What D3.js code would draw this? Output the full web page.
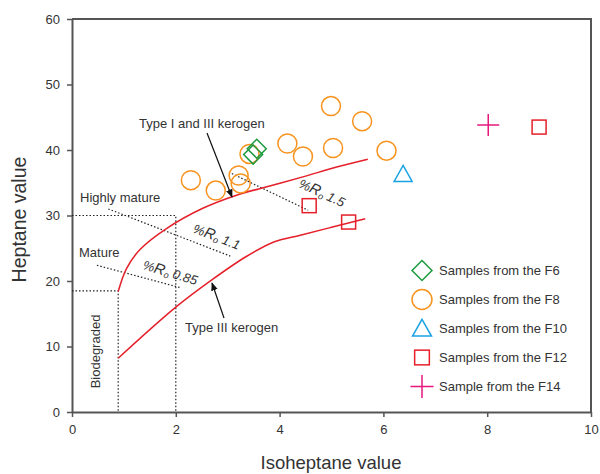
<!DOCTYPE html>
<html>
<head>
<meta charset="utf-8">
<script src="https://cdn.jsdelivr.net/npm/d3@7/dist/d3.min.js"></script>
<style>
  html, body { margin: 0; padding: 0; background: #fff; }
  svg { display: block; font-family: Arial, "Liberation Sans", sans-serif; }
</style>
</head>
<body>
<svg id="chart" width="600" height="474"></svg>
<script>
// Sample groups: [isoheptane, heptane]
const f6 = [[3.56, 40.2], [3.49, 39.3]];
const f8 = [[2.29, 35.4], [2.77, 33.8], [3.21, 36.1], [3.25, 34.9], [3.42, 39.4],
            [4.15, 41.0], [4.45, 39.0], [4.99, 46.7], [5.03, 40.3], [5.59, 44.4], [6.06, 39.9]];
const f10 = [[6.38, 36.3]];
const f12 = [[4.57, 31.5], [5.33, 29.0], [9.0, 43.5]];
const f14 = [[8.02, 43.8]];

// Kerogen trend curves
const typeIandIII = [[0.89, 18.4], [1.05, 21.9], [1.31, 24.8], [1.82, 28.0], [2.52, 31.1],
                     [3.17, 33.1], [3.81, 34.5], [4.45, 35.9], [5.10, 37.4], [5.70, 38.6]];
const typeIII = [[0.89, 8.2], [2.0, 16.0], [2.7, 20.2], [3.35, 23.7], [3.9, 26.0],
                 [4.4, 27.0], [5.0, 28.2], [5.65, 29.5]];

// Maturity boundaries (dotted)
const highlyMatureBox = [[0, 30], [2, 30], [2, 0]];
const matureBox = [[0, 18.5], [0.89, 18.5], [0.89, 0]];
const ro11 = [[0.70, 31.0], [3.05, 23.8]];
const ro085 = [[0.48, 22.4], [2.08, 19.0]];
const ro15 = [[3.08, 36.4], [4.55, 30.8]];

const xTicks = [0, 2, 4, 6, 8, 10];
const yTicks = [0, 10, 20, 30, 40, 50, 60];

const legendItems = [
  { label: "Samples from the F6", shape: "diamond" },
  { label: "Samples from the F8", shape: "circle" },
  { label: "Samples from the F10", shape: "triangle" },
  { label: "Samples from the F12", shape: "square" },
  { label: "Sample from the F14", shape: "cross" }
];

const colors = {
  diamond: "#1d9a3f",
  circle: "#f7931e",
  triangle: "#1aa3e3",
  square: "#e5202a",
  cross: "#e5197e"
};

const svg = d3.select("#chart");
const x = d3.scaleLinear().domain([0, 10]).range([72, 591]);
const y = d3.scaleLinear().domain([0, 60]).range([412, 19]);

const axisColor = "#555";
const textColor = "#333";

// Frame (top and right)
svg.append("path")
  .attr("d", `M${x(0)},${y(60)}H${x(10)}V${y(0)}`)
  .attr("fill", "none").attr("stroke", axisColor).attr("stroke-width", 2);

// Axes
const gx = svg.append("g").attr("transform", `translate(0,${y(0)})`)
  .call(d3.axisBottom(x).tickValues(xTicks).tickSize(5).tickPadding(8).tickSizeOuter(0));
const gy = svg.append("g").attr("transform", `translate(${x(0)},0)`)
  .call(d3.axisLeft(y).tickValues(yTicks).tickSize(5).tickPadding(7).tickSizeOuter(0));
[gx, gy].forEach(g => {
  g.select(".domain").attr("stroke", axisColor).attr("stroke-width", 2);
  g.selectAll(".tick line").attr("stroke", axisColor).attr("stroke-width", 1.5);
  g.selectAll(".tick text").attr("fill", textColor)
    .style("font-size", "13px").style("font-family", "Arial, 'Liberation Sans', sans-serif");
});

// Axis titles
svg.append("text").attr("x", 331).attr("y", 468.5).attr("text-anchor", "middle")
  .attr("fill", textColor).style("font-size", "18.5px").text("Isoheptane value");
svg.append("text").attr("transform", `translate(25.5,219.5) rotate(-90)`)
  .attr("text-anchor", "middle").attr("fill", textColor).style("font-size", "19.5px")
  .text("Heptane value");

const line = d3.line().x(d => x(d[0])).y(d => y(d[1]));
const curve = d3.line().x(d => x(d[0])).y(d => y(d[1])).curve(d3.curveCatmullRom.alpha(0.5));

// Dotted maturity boundaries
[highlyMatureBox, matureBox, ro11, ro085, ro15].forEach(pts => {
  svg.append("path").attr("d", line(pts)).attr("fill", "none")
    .attr("stroke", "#222").attr("stroke-width", 1.2).attr("stroke-dasharray", "1.5,2");
});

// Kerogen curves
[typeIandIII, typeIII].forEach(pts => {
  svg.append("path").attr("d", curve(pts)).attr("fill", "none")
    .attr("stroke", "#e5202a").attr("stroke-width", 1.5);
});

// Arrow marker
svg.append("defs").append("marker")
  .attr("id", "arrow").attr("viewBox", "0 0 10 10").attr("refX", 9).attr("refY", 5)
  .attr("markerWidth", 7).attr("markerHeight", 7).attr("orient", "auto")
  .append("path").attr("d", "M0,1L10,5L0,9Z").attr("fill", "#111");

// Annotation texts
const ann = svg.append("g").attr("fill", textColor).style("font-size", "13px");
ann.append("text").attr("x", 139).attr("y", 128).text("Type I and III kerogen");
ann.append("text").attr("x", 80).attr("y", 202).text("Highly mature");
ann.append("text").attr("x", 79).attr("y", 257).text("Mature");
ann.append("text").attr("x", 185).attr("y", 332).text("Type III kerogen");
ann.append("text").attr("transform", "translate(99.5,351.5) rotate(-90)")
  .attr("text-anchor", "middle").text("Biodegraded");

// Arrows
svg.append("line").attr("x1", 207).attr("y1", 133).attr("x2", 232).attr("y2", 197)
  .attr("stroke", "#111").attr("stroke-width", 1.2).attr("marker-end", "url(#arrow)");
svg.append("line").attr("x1", 224).attr("y1", 318).attr("x2", 212).attr("y2", 283)
  .attr("stroke", "#111").attr("stroke-width", 1.2).attr("marker-end", "url(#arrow)");

// %Ro labels
function roLabel(cx, cy, angle, value) {
  const t = svg.append("text")
    .attr("transform", `translate(${cx},${cy}) rotate(${angle})`)
    .attr("text-anchor", "middle").attr("fill", textColor)
    .style("font-size", "13px").style("font-style", "italic");
  t.append("tspan").text("%");
  t.append("tspan").style("font-size", "15px").text("R");
  t.append("tspan").style("font-size", "9px").attr("dy", 2).text("o");
  t.append("tspan").attr("dy", -2).text(" " + value);
}
roLabel(215, 241, 21, "1.1");
roLabel(169, 277, 17, "0.85");
roLabel(320, 197, 25, "1.5");

// Symbols
function drawSymbol(g, shape, cx, cy, scale = 1) {
  const c = colors[shape];
  const sw = 1.5;
  if (shape === "diamond") {
    const h = 9.5 * scale;
    g.append("path").attr("d", `M${cx},${cy - h}L${cx + h},${cy}L${cx},${cy + h}L${cx - h},${cy}Z`)
      .attr("fill", "none").attr("stroke", c).attr("stroke-width", sw);
  } else if (shape === "circle") {
    g.append("circle").attr("cx", cx).attr("cy", cy).attr("r", 9.5 * scale)
      .attr("fill", "none").attr("stroke", c).attr("stroke-width", sw);
  } else if (shape === "triangle") {
    const w = 9 * scale, h = 16 * scale;
    g.append("path").attr("d", `M${cx},${cy - h * 0.55}L${cx + w},${cy + h * 0.45}L${cx - w},${cy + h * 0.45}Z`)
      .attr("fill", "none").attr("stroke", c).attr("stroke-width", sw);
  } else if (shape === "square") {
    const s = 7 * scale;
    g.append("rect").attr("x", cx - s).attr("y", cy - s).attr("width", 2 * s).attr("height", 2 * s)
      .attr("fill", "none").attr("stroke", c).attr("stroke-width", sw);
  } else if (shape === "cross") {
    const s = 11 * scale;
    g.append("path").attr("d", `M${cx - s},${cy}H${cx + s}M${cx},${cy - s}V${cy + s}`)
      .attr("fill", "none").attr("stroke", c).attr("stroke-width", sw);
  }
}

const pts = svg.append("g");
f8.forEach(d => drawSymbol(pts, "circle", x(d[0]), y(d[1])));
f6.forEach(d => drawSymbol(pts, "diamond", x(d[0]), y(d[1])));
f10.forEach(d => drawSymbol(pts, "triangle", x(d[0]), y(d[1])));
f12.forEach(d => drawSymbol(pts, "square", x(d[0]), y(d[1])));
f14.forEach(d => drawSymbol(pts, "cross", x(d[0]), y(d[1])));

// Legend
const legend = svg.append("g");
legendItems.forEach((item, i) => {
  const cy = 270.5 + i * 29;
  drawSymbol(legend, item.shape, 422, cy, 1.05);
  legend.append("text").attr("x", 439).attr("y", cy + 4.5).attr("fill", textColor)
    .style("font-size", "13px").text(item.label);
});
</script>
</body>
</html>
